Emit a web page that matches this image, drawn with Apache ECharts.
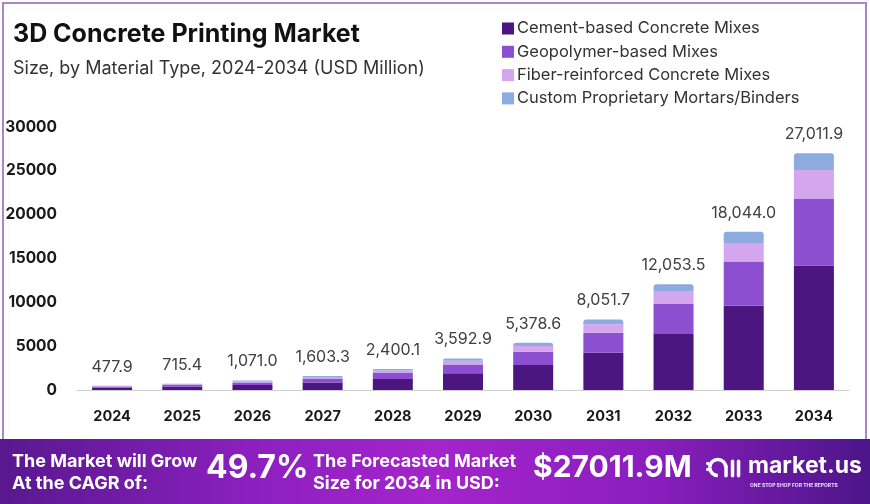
<!DOCTYPE html>
<html>
<head>
<meta charset="utf-8">
<script src="https://cdn.jsdelivr.net/npm/echarts@6/dist/echarts.min.js"></script>
<style>
html,body{margin:0;padding:0;background:#fff;}
#c{width:870px;height:504px;}
</style>
</head>
<body>
<div id="c"></div>
<script>
var years = ['2024','2025','2026','2027','2028','2029','2030','2031','2032','2033','2034'];
var cementBased = [252.3, 377.7, 565.5, 846.5, 1267.3, 1897.1, 2839.9, 4251.3, 6376.3, 9599.4, 14210.0];
var geopolymer = [135.2, 202.5, 303.1, 453.7, 679.2, 1016.8, 1522.1, 2278.6, 3447.3, 5070.4, 7644.0];
var fiberReinforced = [57.3, 85.8, 128.5, 192.4, 288.0, 431.1, 645.4, 966.2, 1470.5, 2111.1, 3243.0];
var customMortars = [33.1, 49.4, 73.9, 110.7, 165.6, 247.9, 371.2, 555.6, 759.4, 1263.1, 1914.9];
var totals = [477.9, 715.4, 1071.0, 1603.3, 2400.1, 3592.9, 5378.6, 8051.7, 12053.5, 18044.0, 27011.9];
var seriesNames = ['Cement-based Concrete Mixes','Geopolymer-based Mixes','Fiber-reinforced Concrete Mixes','Custom Proprietary Mortars/Binders'];
var colors = ['#4b1680','#8b4fd0','#d3a6ee','#8eabe0'];

var FONT = 'Inter, "Open Sans", sans-serif';
var chart = echarts.init(document.getElementById('c'), null, {renderer:'canvas'});

function fmt(v){ return v.toLocaleString('en-US',{minimumFractionDigits:1,maximumFractionDigits:1}); }

var dataSets = [cementBased, geopolymer, fiberReinforced, customMortars];
var series = dataSets.map(function(d, i){
  var s = {
    name: seriesNames[i], type:'bar', stack:'total', data:d, barWidth:40,
    itemStyle:{color:colors[i]},
    emphasis:{disabled:true}
  };
  if(i===3){
    s.itemStyle.borderRadius=[3,3,0,0];
    s.label = {show:true, position:'top', distance:11, fontFamily:FONT, fontSize:16, color:'#404040',
      formatter:function(p){ return fmt(totals[p.dataIndex]); }};
  }
  return s;
});

var option = {
  animation:false,
  textStyle:{fontFamily:FONT},
  title:{
    text:'3D Concrete Printing Market',
    subtext:'Size, by Material Type, 2024-2034 (USD Million)',
    left:8, top:17,
    textStyle:{fontFamily:FONT, fontSize:25, fontWeight:'bold', color:'#111'},
    subtextStyle:{fontFamily:FONT, fontSize:18, color:'#333'},
    itemGap:13
  },
  legend:{
    orient:'vertical', left:502, top:20, padding:0, itemWidth:12, itemHeight:12, itemGap:6.3,
    icon:'rect',
    textStyle:{fontFamily:FONT, fontSize:16.5, color:'#333', padding:[0,0,0,-2]},
    data:seriesNames
  },
  grid:{left:77, right:21, top:127, bottom:114},
  xAxis:{
    type:'category', data:years,
    axisLine:{lineStyle:{color:'#d0d0d0'}},
    axisTick:{show:false},
    axisLabel:{fontFamily:FONT, fontSize:14.5, fontWeight:'bold', color:'#1a1a1a', margin:19}
  },
  yAxis:{
    type:'value', min:0, max:30000, interval:5000,
    splitLine:{show:false}, axisLine:{show:false}, axisTick:{show:false},
    axisLabel:{fontFamily:FONT, fontSize:15.5, fontWeight:'bold', color:'#1a1a1a', margin:20,
      formatter:function(v){ return String(v); }}
  },
  series:series,
  graphic:[
    {type:'polyline', shape:{points:[[3,439],[3,3],[866,3],[866,439]]}, style:{stroke:'#ae84c9', lineWidth:2, fill:null}, z:-1},
    {type:'rect', shape:{x:0,y:439,width:870,height:65},
      style:{fill:new echarts.graphic.LinearGradient(0,0,1,0,[
        {offset:0,color:'#58188f'},{offset:0.3,color:'#8d20c0'},{offset:0.5,color:'#a424cc'},
        {offset:0.75,color:'#8a1ebd'},{offset:1,color:'#4c1589'}])}},
    {type:'text', left:12, top:451, style:{text:'The Market will Grow\nAt the CAGR of:', fill:'#fff', font:'bold 18px '+FONT, lineHeight:22}},
    {type:'text', left:206, top:452, style:{text:'49.7%', fill:'#fff', font:'bold 32px '+FONT, shadowColor:'rgba(40,0,60,0.6)', shadowBlur:4, shadowOffsetY:2}},
    {type:'text', left:313, top:451, style:{text:'The Forecasted Market\nSize for 2034 in USD:', fill:'#fff', font:'bold 18px '+FONT, lineHeight:22}},
    {type:'text', left:533, top:453, style:{text:'$27011.9M', fill:'#fff', font:'bold 30px '+FONT, shadowColor:'rgba(40,0,60,0.6)', shadowBlur:4, shadowOffsetY:2}},
    {type:'group', left:706, top:457, children:[
      {type:'arc', shape:{cx:12, cy:12, r:8, startAngle:Math.PI, endAngle:0, clockwise:true}, style:{stroke:'#fff', lineWidth:3.5, fill:null}},
      {type:'arc', shape:{cx:12, cy:12, r:8, startAngle:Math.PI*0.5, endAngle:Math.PI*1.0, clockwise:true}, style:{stroke:'#fff', lineWidth:3.5, fill:null}},
      {type:'circle', shape:{cx:2, cy:8, r:1.8}, style:{fill:'#fff'}},
      {type:'circle', shape:{cx:2, cy:14, r:1.8}, style:{fill:'#fff'}},
      {type:'rect', shape:{x:18.5, y:9, width:3.5, height:13, r:1.7}, style:{fill:'#fff'}},
      {type:'rect', shape:{x:25, y:4, width:3.5, height:18, r:1.7}, style:{fill:'#fff'}},
      {type:'rect', shape:{x:31, y:4, width:3.5, height:18, r:1.7}, style:{fill:'#fff'}}
    ]},
    {type:'text', left:748, top:455, style:{text:'market.us', fill:'#fff', font:'bold 23px '+FONT}},
    {type:'text', left:750, top:483, style:{text:'ONE STOP SHOP FOR THE REPORTS', fill:'#f0e0ff', font:'bold 5px '+FONT}}
  ]
};
chart.setOption(option);
</script>
</body>
</html>
